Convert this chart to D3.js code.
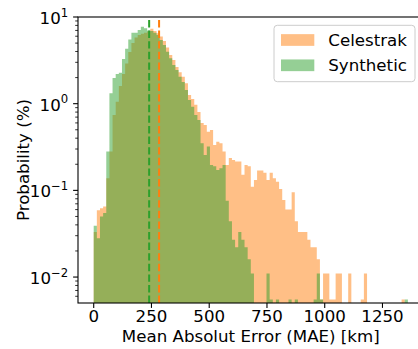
<!DOCTYPE html>
<html>
<head>
<meta charset="utf-8">
<script src="https://cdn.jsdelivr.net/npm/d3@7"></script>
<style>
  html, body { margin: 0; padding: 0; background: #fff; }
  svg { display: block; font-family: "DejaVu Sans", sans-serif; }
</style>
</head>
<body>
<svg id="chart" width="418" height="349"></svg>
<script>
// histogram bins: 100 bins of 13.6 km starting at 0
var binWidth = 13.6;

// Probability (%) per bin
var celestrak = [
  0.033, 0.059, 0.062, 0.065, 0.138, 0.28, 0.74, 1.05, 1.6, 2.2,
  2.9, 3.95, 5.0, 5.8, 6.2, 6.4, 6.6, 6.8, 7.3, 6.9,
  6.5, 5.95, 5.3, 4.45, 3.65, 3.2, 2.65, 2.3, 2.05, 1.72,
  1.26, 1.13, 0.97, 0.8, 0.6, 0.568, 0.476, 0.497, 0.334, 0.365,
  0.35, 0.28, 0.196, 0.236, 0.224, 0.215, 0.215, 0.151, 0.196, 0.19,
  0.11, 0.132, 0.17, 0.17, 0.16, 0.132, 0.16, 0.138, 0.126, 0.104,
  0.0775, 0.06, 0.06, 0.095, 0.044, 0.033, 0.033, 0.033, 0.027, 0.022,
  0.022, 0.016, 0.0055, 0.011, 0.011, 0.0055, 0.0055, 0.011, 0.011, 0,
  0, 0.011, 0, 0, 0, 0.0055, 0.011, 0, 0, 0,
  0, 0, 0, 0, 0, 0, 0, 0, 0.0055, 0
];
var synthetic = [
  0.039, 0.028, 0.05, 0.055, 0.28, 1.32, 1.98, 2.2, 2.28, 3.28,
  4.3, 5.5, 6.6, 6.6, 7.1, 7.7, 7.4, 7.0, 6.9, 6.6,
  6.2, 5.43, 4.75, 3.97, 3.35, 2.79, 2.45, 2.05, 1.78, 1.44,
  1.1, 0.92, 0.74, 0.65, 0.35, 0.256, 0.32, 0.196, 0.19, 0.172,
  0.18, 0.196, 0.076, 0.044, 0.027, 0.022, 0.033, 0.027, 0.022, 0.016,
  0.011, 0, 0, 0, 0, 0.011, 0.0055, 0, 0.0055, 0,
  0, 0, 0.0055, 0, 0.0055, 0, 0, 0, 0, 0,
  0.0055, 0.011, 0.0055, 0, 0, 0, 0, 0, 0, 0,
  0, 0, 0, 0, 0, 0, 0, 0, 0, 0,
  0, 0, 0, 0, 0, 0, 0, 0, 0, 0.0055
];

var seriesNames = ['Celestrak', 'Synthetic'];
var seriesColors = ['#ff7f0e', '#2ca02c'];
var meanValues = [283, 240];

var xTicks = [0, 250, 500, 750, 1000, 1250];
var yTicks = [0.01, 0.1, 1, 10];
var yTickExponents = ['\u22122', '\u22121', '0', '1'];

var svg = d3.select('#chart');
var plotLeft = 78, plotRight = 423.6, plotTop = 17, plotBottom = 303;
var fontSize = 16.67;

var x = d3.scaleLinear().domain([-68, 1428]).range([plotLeft, plotRight]);
var y = d3.scaleLog().domain([0.00502, 10]).range([plotBottom, plotTop]);

svg.append('clipPath').attr('id', 'plot-clip')
    .append('rect')
    .attr('x', plotLeft).attr('y', plotTop)
    .attr('width', plotRight - plotLeft).attr('height', plotBottom - plotTop);

var plot = svg.append('g').attr('clip-path', 'url(#plot-clip)');

function histPoints (values) {
    var pts = [[x(0), plotBottom]];
    values.forEach(function (v, i) {
        var yy = v > 0 ? y(v) : plotBottom;
        pts.push([x(i * binWidth), yy]);
        pts.push([x((i + 1) * binWidth), yy]);
    });
    pts.push([x(values.length * binWidth), plotBottom]);
    return pts;
}

var line = d3.line();
[celestrak, synthetic].forEach(function (values, k) {
    plot.append('path')
        .attr('d', line(histPoints(values)) + 'Z')
        .attr('fill', seriesColors[k])
        .attr('fill-opacity', 0.5)
        .attr('stroke', 'none');
});

// mean lines, dash pattern starts at the bottom like axvline
meanValues.forEach(function (m, k) {
    plot.append('line')
        .attr('x1', x(m)).attr('x2', x(m))
        .attr('y1', plotBottom).attr('y2', plotTop)
        .attr('stroke', seriesColors[k])
        .attr('stroke-width', 2)
        .attr('stroke-dasharray', '7.4,3.2');
});

// spines
svg.append('rect')
    .attr('x', plotLeft).attr('y', plotTop)
    .attr('width', plotRight - plotLeft).attr('height', plotBottom - plotTop)
    .attr('fill', 'none').attr('stroke', '#000').attr('stroke-width', 1.1);

// x axis
var xAxis = svg.append('g');
xTicks.forEach(function (t) {
    var px = x(t);
    xAxis.append('line')
        .attr('x1', px).attr('x2', px)
        .attr('y1', plotBottom).attr('y2', plotBottom + 4.9)
        .attr('stroke', '#000').attr('stroke-width', 1.1);
    xAxis.append('text')
        .attr('x', px).attr('y', 322)
        .attr('text-anchor', 'middle')
        .attr('font-size', fontSize)
        .text(t);
});
svg.append('text')
    .attr('x', (plotLeft + plotRight) / 2).attr('y', 341.5)
    .attr('text-anchor', 'middle')
    .attr('font-size', fontSize)
    .text('Mean Absolut Error (MAE) [km]');

// y axis, log ticks
var yAxis = svg.append('g');
var minor = [];
[-3, -2, -1, 0].forEach(function (e) {
    for (var m = 2; m < 10; m++) {
        var v = m * Math.pow(10, e);
        if (v >= y.domain()[0] && v <= y.domain()[1]) minor.push(v);
    }
});
minor.forEach(function (v) {
    yAxis.append('line')
        .attr('x1', plotLeft - 2.8).attr('x2', plotLeft)
        .attr('y1', y(v)).attr('y2', y(v))
        .attr('stroke', '#000').attr('stroke-width', 0.8);
});
yTicks.forEach(function (t, i) {
    var py = y(t);
    yAxis.append('line')
        .attr('x1', plotLeft - 4.9).attr('x2', plotLeft)
        .attr('y1', py).attr('y2', py)
        .attr('stroke', '#000').attr('stroke-width', 1.1);
    var label = yAxis.append('text')
        .attr('x', plotLeft - 9.8).attr('y', py + 7)
        .attr('text-anchor', 'end')
        .attr('font-size', fontSize);
    label.append('tspan').text('10');
    label.append('tspan')
        .attr('dy', -7.2)
        .attr('font-size', fontSize * 0.7)
        .text(yTickExponents[i]);
});
svg.append('text')
    .attr('transform', 'translate(28.5,' + ((plotTop + plotBottom) / 2) + ') rotate(-90)')
    .attr('text-anchor', 'middle')
    .attr('font-size', fontSize)
    .text('Probability (%)');

// legend
var legend = svg.append('g');
legend.append('rect')
    .attr('x', 274).attr('y', 25.3)
    .attr('width', 141).attr('height', 56.4)
    .attr('rx', 3.3).attr('ry', 3.3)
    .attr('fill', '#fff').attr('fill-opacity', 0.8)
    .attr('stroke', '#cccccc').attr('stroke-width', 1);
seriesNames.forEach(function (name, k) {
    var cy = 40 + k * 25.3;
    legend.append('rect')
        .attr('x', 281).attr('y', cy - 5.85)
        .attr('width', 33.3).attr('height', 11.7)
        .attr('fill', seriesColors[k]).attr('fill-opacity', 0.5);
    legend.append('text')
        .attr('x', 328.3).attr('y', cy + 6)
        .attr('font-size', fontSize)
        .text(name);
});
</script>
</body>
</html>
